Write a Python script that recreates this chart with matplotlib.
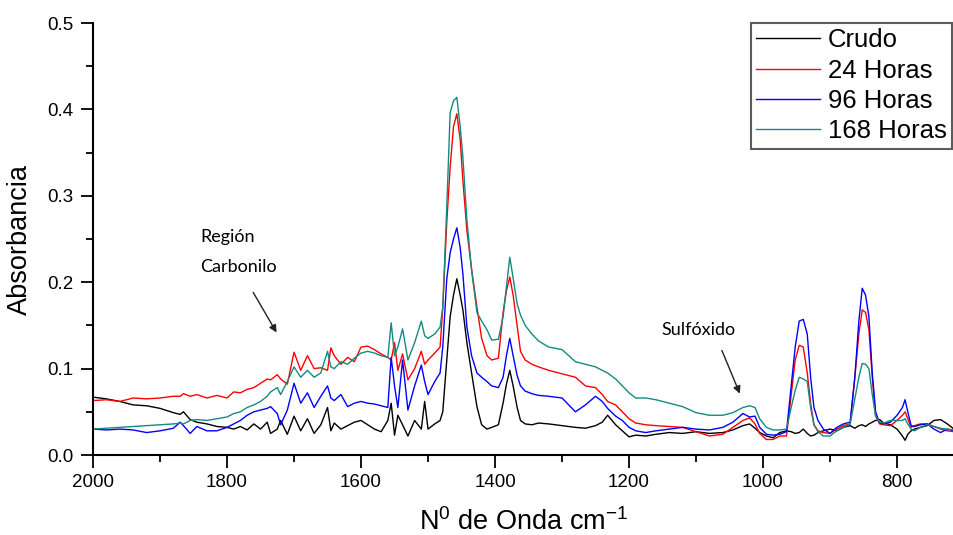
import numpy as np
import matplotlib
matplotlib.use('Agg')
import matplotlib.pyplot as plt
from matplotlib.ticker import MultipleLocator, FormatStrFormatter

plt.rcParams['font.family'] = ['Liberation Sans', 'DejaVu Sans']

# numero de onda (cm-1)
onda = [2000, 1980, 1960, 1940, 1920, 1900, 1880, 1870, 1865, 1855, 1845, 1830, 1815, 1800,
        1790, 1780, 1770, 1760, 1750, 1740, 1735, 1725, 1720, 1710, 1700, 1690, 1680, 1670,
        1660, 1650, 1645, 1640, 1630, 1620, 1610, 1600, 1590, 1580, 1570, 1560, 1555, 1550,
        1545, 1538, 1530, 1520, 1510, 1505, 1500, 1490, 1482, 1478, 1472, 1467, 1462, 1457,
        1452, 1448, 1442, 1435, 1427, 1420, 1412, 1405, 1395, 1388, 1383, 1378, 1373, 1367,
        1362, 1355, 1345, 1335, 1320, 1300, 1280, 1265, 1250, 1240, 1232, 1220, 1210, 1200,
        1190, 1175, 1160, 1140, 1120, 1100, 1080, 1060, 1045, 1030, 1020, 1012, 1005, 995,
        985, 975, 965, 958, 952, 946, 940, 934, 929, 924, 918, 910, 900, 890, 880, 870,
        863, 857, 852, 847, 842, 837, 832, 826, 820, 810, 800, 792, 788, 784, 779, 774,
        765, 755, 745, 735, 725, 715]

crudo = [0.067, 0.065, 0.062, 0.058, 0.057, 0.054, 0.049, 0.047, 0.050, 0.041, 0.038, 0.036, 0.033, 0.032,
         0.030, 0.033, 0.029, 0.036, 0.030, 0.038, 0.025, 0.030, 0.040, 0.024, 0.045, 0.028, 0.042, 0.025,
         0.035, 0.055, 0.028, 0.037, 0.030, 0.034, 0.038, 0.040, 0.035, 0.030, 0.027, 0.040, 0.060, 0.023,
         0.046, 0.035, 0.022, 0.040, 0.030, 0.062, 0.030, 0.036, 0.040, 0.050, 0.110, 0.160, 0.185, 0.204,
         0.185, 0.168, 0.130, 0.095, 0.056, 0.035, 0.030, 0.032, 0.035, 0.060, 0.082, 0.098, 0.080, 0.055,
         0.040, 0.036, 0.035, 0.037, 0.036, 0.034, 0.032, 0.031, 0.034, 0.038, 0.046, 0.035, 0.028, 0.021,
         0.023, 0.022, 0.024, 0.026, 0.025, 0.027, 0.025, 0.026, 0.029, 0.034, 0.036, 0.031, 0.026, 0.022,
         0.020, 0.026, 0.028, 0.027, 0.025, 0.026, 0.030, 0.025, 0.022, 0.023, 0.026, 0.028, 0.030, 0.028, 0.032, 0.034,
         0.031, 0.034, 0.035, 0.033, 0.036, 0.038, 0.040, 0.041, 0.037, 0.035, 0.030, 0.022, 0.017, 0.024, 0.028, 0.030,
         0.032, 0.034, 0.040, 0.041, 0.036, 0.030]

h24 = [0.063, 0.064, 0.062, 0.066, 0.065, 0.066, 0.068, 0.068, 0.071, 0.068, 0.070, 0.066, 0.069, 0.066,
       0.073, 0.072, 0.076, 0.078, 0.083, 0.088, 0.087, 0.093, 0.088, 0.082, 0.119, 0.098, 0.115, 0.100,
       0.101, 0.098, 0.124, 0.115, 0.105, 0.113, 0.108, 0.125, 0.126, 0.122, 0.117, 0.113, 0.110, 0.130,
       0.098, 0.117, 0.087, 0.100, 0.120, 0.105, 0.110, 0.118, 0.125, 0.170, 0.270, 0.333, 0.380, 0.395,
       0.365, 0.318, 0.260, 0.215, 0.171, 0.135, 0.115, 0.110, 0.112, 0.165, 0.190, 0.206, 0.185, 0.150,
       0.120, 0.110, 0.105, 0.102, 0.098, 0.094, 0.090, 0.080, 0.078, 0.070, 0.062, 0.058, 0.050, 0.042,
       0.037, 0.035, 0.034, 0.033, 0.032, 0.027, 0.022, 0.024, 0.032, 0.040, 0.043, 0.036, 0.025, 0.018,
       0.018, 0.022, 0.022, 0.070, 0.110, 0.127, 0.125, 0.095, 0.060, 0.035, 0.028, 0.026, 0.025, 0.030, 0.034, 0.036,
       0.090, 0.140, 0.168, 0.165, 0.145, 0.090, 0.045, 0.036, 0.035, 0.034, 0.040, 0.046, 0.050, 0.042, 0.032, 0.034,
       0.036, 0.036, 0.033, 0.030, 0.028, 0.027]

h96 = [0.030, 0.029, 0.030, 0.029, 0.026, 0.028, 0.031, 0.038, 0.034, 0.025, 0.033, 0.028, 0.028, 0.032,
       0.036, 0.040, 0.046, 0.050, 0.052, 0.054, 0.056, 0.048, 0.035, 0.052, 0.083, 0.060, 0.072, 0.055,
       0.068, 0.080, 0.066, 0.063, 0.070, 0.056, 0.060, 0.062, 0.060, 0.059, 0.057, 0.055, 0.113, 0.080,
       0.055, 0.110, 0.052, 0.080, 0.104, 0.085, 0.070, 0.085, 0.095, 0.125, 0.204, 0.234, 0.250, 0.263,
       0.240, 0.210, 0.148, 0.115, 0.095, 0.090, 0.085, 0.080, 0.078, 0.090, 0.115, 0.135, 0.115, 0.092,
       0.080, 0.074, 0.071, 0.069, 0.068, 0.066, 0.050, 0.058, 0.068, 0.062, 0.054, 0.045, 0.040, 0.032,
       0.028, 0.026, 0.028, 0.030, 0.032, 0.030, 0.029, 0.032, 0.038, 0.048, 0.044, 0.045, 0.032, 0.024,
       0.023, 0.024, 0.027, 0.080, 0.125, 0.155, 0.157, 0.140, 0.090, 0.055, 0.040, 0.030, 0.025, 0.032, 0.036, 0.038,
       0.090, 0.155, 0.193, 0.185, 0.160, 0.095, 0.050, 0.037, 0.036, 0.038, 0.046, 0.055, 0.064, 0.050, 0.034, 0.033,
       0.035, 0.036, 0.030, 0.026, 0.030, 0.028]

h168 = [0.030, 0.031, 0.032, 0.033, 0.034, 0.035, 0.036, 0.037, 0.036, 0.040, 0.041, 0.040, 0.042, 0.044,
        0.048, 0.050, 0.055, 0.058, 0.062, 0.068, 0.073, 0.078, 0.070, 0.085, 0.102, 0.090, 0.098, 0.090,
        0.095, 0.120, 0.102, 0.100, 0.108, 0.105, 0.112, 0.118, 0.120, 0.118, 0.115, 0.113, 0.153, 0.115,
        0.125, 0.146, 0.110, 0.130, 0.155, 0.138, 0.135, 0.140, 0.148, 0.171, 0.287, 0.396, 0.410, 0.414,
        0.380, 0.345, 0.272, 0.214, 0.165, 0.155, 0.145, 0.133, 0.134, 0.160, 0.195, 0.229, 0.205, 0.175,
        0.162, 0.150, 0.140, 0.132, 0.125, 0.122, 0.108, 0.105, 0.102, 0.098, 0.095, 0.088, 0.080, 0.072,
        0.066, 0.066, 0.064, 0.060, 0.056, 0.049, 0.046, 0.046, 0.049, 0.055, 0.057, 0.055, 0.042, 0.032,
        0.029, 0.029, 0.030, 0.055, 0.075, 0.090, 0.088, 0.085, 0.055, 0.035, 0.027, 0.022, 0.022, 0.028, 0.032, 0.036,
        0.065, 0.090, 0.106, 0.105, 0.100, 0.070, 0.045, 0.038, 0.037, 0.040, 0.040, 0.040, 0.042, 0.036, 0.030, 0.028,
        0.032, 0.035, 0.033, 0.031, 0.030, 0.029]

series = [('Crudo', crudo, 'black'), ('24 Horas', h24, '#ff0000'),
          ('96 Horas', h96, '#0000ff'), ('168 Horas', h168, '#148a80')]

fig = plt.figure(figsize=(9.54, 5.35), dpi=100)
ax = fig.add_axes([0.0975, 0.1495, 0.9025, 0.8075])

for nombre, y, c in series:
    ax.plot(onda, y, color=c, lw=1.0, label=nombre)

ax.set_xlim(2000, 715)
ax.set_ylim(0, 0.5)
ax.xaxis.set_major_locator(MultipleLocator(200))
ax.xaxis.set_minor_locator(MultipleLocator(100))
ax.yaxis.set_major_locator(MultipleLocator(0.1))
ax.yaxis.set_minor_locator(MultipleLocator(0.05))
ax.yaxis.set_major_formatter(FormatStrFormatter('%.1f'))

ax.spines['top'].set_visible(False)
ax.spines['right'].set_visible(False)
ax.spines['left'].set_linewidth(1.5)
ax.spines['bottom'].set_linewidth(1.5)
ax.tick_params(which='major', direction='out', length=9, width=1.3, labelsize=13.5, pad=5)
ax.tick_params(which='minor', direction='out', length=5, width=1.3)

ax.set_ylabel('Absorbancia', fontsize=19.5, labelpad=10)
ax.set_xlabel(r'N$^\mathregular{0}$ de Onda cm$^\mathregular{-1}$', fontsize=19.5, labelpad=12)

leg = ax.legend(loc='upper left', bbox_to_anchor=(0.787, 0.957), bbox_transform=fig.transFigure,
                fontsize=18.5, frameon=True, fancybox=False, handlelength=2.5, handletextpad=0.3,
                labelspacing=0.25, borderpad=0.2, borderaxespad=0)
leg.get_frame().set_edgecolor('#333333')
leg.get_frame().set_linewidth(1.5)

ax.text(1840, 0.252, 'Región', fontsize=13, family=['Lato', 'DejaVu Sans'], va='center', ha='left')
ax.text(1840, 0.218, 'Carbonilo', fontsize=13, family=['Lato', 'DejaVu Sans'], va='center', ha='left')
ax.annotate('', xy=(1724, 0.139), xytext=(1763, 0.191),
            arrowprops=dict(arrowstyle='-|>', color='#222222', lw=1.0, mutation_scale=11))

ax.text(1151, 0.145, 'Sulfóxido', fontsize=13, family=['Lato', 'DejaVu Sans'], va='center', ha='left')
ax.annotate('', xy=(1033, 0.068), xytext=(1063, 0.124),
            arrowprops=dict(arrowstyle='-|>', color='#222222', lw=1.0, mutation_scale=11))

fig.savefig('out.png', dpi=100)
